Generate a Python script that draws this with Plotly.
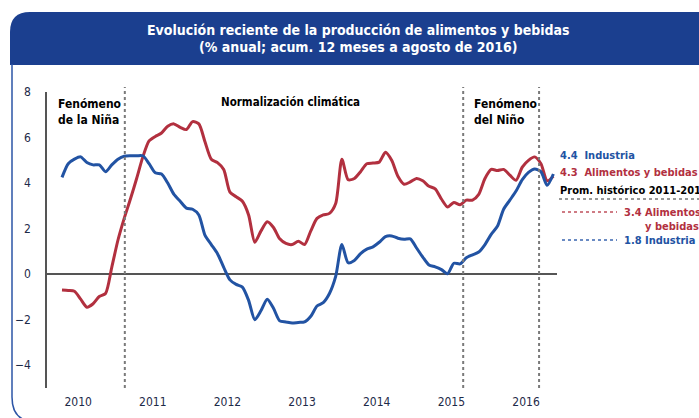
import plotly.graph_objects as go

# ---------------- data (monthly, Jan-2010 .. Aug-2016) ----------------
industria = [4.25, 4.85, 5.05, 5.15, 4.9, 4.8, 4.8, 4.5, 4.8, 5.05,
             5.18, 5.2, 5.2, 5.2, 4.85, 4.45, 4.4, 4.0, 3.5, 3.2,
             2.9, 2.85, 2.6, 1.7, 1.3, 0.9, 0.3, -0.25, -0.45, -0.57,
             -1.15, -2.0, -1.6, -1.1, -1.5, -2.05, -2.1, -2.15, -2.12, -2.1,
             -1.85, -1.4, -1.25, -0.85, -0.1, 1.3, 0.5, 0.6, 0.9, 1.1,
             1.2, 1.4, 1.65, 1.68, 1.58, 1.53, 1.55, 1.15, 0.75, 0.4,
             0.32, 0.2, 0.02, 0.48, 0.45, 0.72, 0.85, 0.97, 1.3, 1.75,
             2.1, 2.85, 3.25, 3.65, 4.15, 4.47, 4.62, 4.5, 3.9, 4.4]

alimentos = [-0.7, -0.72, -0.75, -1.1, -1.45, -1.3, -0.98, -0.85, 0.3, 1.5,
             2.45, 3.3, 4.2, 5.15, 5.85, 6.05, 6.2, 6.5, 6.6, 6.45,
             6.35, 6.7, 6.6, 5.8, 5.05, 4.9, 4.6, 3.6, 3.4, 3.2,
             2.6, 1.4, 1.9, 2.3, 2.05, 1.55, 1.35, 1.3, 1.45, 1.3,
             1.9, 2.45, 2.6, 2.67, 3.1, 5.05, 4.15, 4.2, 4.5, 4.85,
             4.88, 4.92, 5.35, 5.0, 4.3, 3.95, 4.05, 4.2, 4.1, 3.86,
             3.75, 3.3, 2.95, 3.15, 3.05, 3.25, 3.25, 3.5, 4.2, 4.6,
             4.55, 4.6, 4.35, 4.12, 4.7, 5.0, 5.15, 4.85, 4.1, 4.3]

years = ["2010", "2011", "2012", "2013", "2014", "2015", "2016"]
y_ticks = [8, 6, 4, 2, 0, -2, -4]
phase_breaks = [10.1, 64.5, 76.7]          # month index of the dotted separators
last_industria = 4.4
last_alimentos = 4.3
prom_alimentos = 3.4
prom_industria = 1.8

months = list(range(len(industria)))

BLUE = "#2253a3"
RED = "#b2303f"
NAVY = "#1d2a48"
HEAD = "#1b3f8f"
FONT = "DejaVu Sans Condensed"

# ---------------- geometry helpers (pixels -> paper) ----------------
W, H = 699, 418
L, R, T, B = 47, 557, 92, 388


def px(x):
    return (x - L) / (R - L)


def py(y):
    return (B - y) / (B - T)


fig = go.Figure()

fig.add_trace(go.Scatter(x=months, y=alimentos, mode="lines",
                         line=dict(color=RED, width=3, shape="spline", smoothing=0.7),
                         hoverinfo="skip", showlegend=False))
fig.add_trace(go.Scatter(x=months, y=industria, mode="lines",
                         line=dict(color=BLUE, width=3, shape="spline", smoothing=0.7),
                         hoverinfo="skip", showlegend=False))

shapes = []
# header band
shapes.append(dict(type="path", xref="paper", yref="paper", layer="below",
                   path=f"M {px(10)},{py(65)} L {px(10)},{py(32)} Q {px(10)},{py(12)} {px(30)},{py(12)} "
                        f"L {px(720)},{py(12)} L {px(720)},{py(65)} Z",
                   fillcolor=HEAD, line=dict(width=0)))
# left frame border
shapes.append(dict(type="path", xref="paper", yref="paper", layer="below",
                   path=f"M {px(12)},{py(64)} L {px(12)},{py(397)} Q {px(12)},{py(419)} {px(30)},{py(421)}",
                   line=dict(color="#2c55a6", width=1.5)))
# vertical dotted separators
for b in phase_breaks:
    shapes.append(dict(type="line", xref="x", yref="paper", x0=b, x1=b,
                       y0=0, y1=py(87), line=dict(color="#7a7a7a", width=2, dash="dot")))
# right-side reference lines
shapes.append(dict(type="line", xref="paper", yref="paper", x0=px(559), x1=px(705),
                   y0=py(199), y1=py(199), line=dict(color="#777777", width=1.5, dash="dot")))
shapes.append(dict(type="line", xref="paper", yref="paper", x0=px(562), x1=px(617),
                   y0=py(212), y1=py(212), line=dict(color="#c0505c", width=1.5, dash="dot")))
shapes.append(dict(type="line", xref="paper", yref="paper", x0=px(562), x1=px(617),
                   y0=py(240), y1=py(240), line=dict(color="#3a66b0", width=1.5, dash="dot")))

ann = []


def text(x, y, s, color, size=12, anchor="left", bold=True):
    ann.append(dict(xref="paper", yref="paper", x=px(x), y=py(y), text=f"<b>{s}</b>" if bold else s,
                    showarrow=False, xanchor=anchor, yanchor="middle",
                    font=dict(family=FONT, size=size, color=color)))


# title
text(358, 30, "Evolución reciente de la producción de alimentos y bebidas", "white", 14, "center")
text(358, 47, "(% anual; acum. 12 meses a agosto de 2016)", "white", 14, "center")
# phase labels
ann.append(dict(xref="paper", yref="paper", x=px(56), y=py(95), xanchor="left", yanchor="top",
                text="<b>Fenómeno<br>de la Niña</b>", showarrow=False, align="left",
                font=dict(family=FONT, size=12, color="black")))
text(219, 102, "Normalización climática", "black", 11.5)
ann.append(dict(xref="paper", yref="paper", x=px(472), y=py(95), xanchor="left", yanchor="top",
                text="<b>Fenómeno<br>del Niño</b>", showarrow=False, align="left",
                font=dict(family=FONT, size=12, color="black")))
# right labels
RS = 11
text(558, 155, f"{last_industria}  Industria", BLUE, RS)
text(558, 172, f"{last_alimentos}  Alimentos y bebidas", RED, RS)
text(558, 190, "Prom. histórico 2011-2016", "black", RS)
text(622, 212, f"{prom_alimentos} Alimentos", RED, RS)
text(643, 226, "y bebidas", RED, RS)
text(622, 240, f"{prom_industria} Industria", BLUE, RS)

x0 = -(62 - L) / 6.22
x1 = x0 + (R - L) / 6.22

fig.update_layout(
    width=W, height=H,
    margin=dict(l=L, r=W - R, t=T, b=H - B),
    paper_bgcolor="white", plot_bgcolor="white",
    shapes=shapes, annotations=ann,
    xaxis=dict(range=[x0, x1], showgrid=False, zeroline=False, showline=False, automargin=False,
               tickmode="array", tickvals=[12 * i + 2.6 for i in range(len(years))],
               ticktext=years, ticks="", ticklabelstandoff=5,
               tickfont=dict(family=FONT, size=12, color=NAVY)),
    yaxis=dict(range=[-5, 8], showgrid=False, zeroline=True, zerolinecolor="#555555",
               zerolinewidth=1.5, showline=True, linecolor="#555555", linewidth=1.5,
               automargin=False,
               tickmode="array", tickvals=y_ticks, ticks="", ticklabelstandoff=12,
               tickfont=dict(family=FONT, size=12, color=NAVY)),
)

fig.write_html("out.html", config={"displayModeBar": False},
               post_script="document.body.style.margin='0';document.body.style.overflow='hidden';")
